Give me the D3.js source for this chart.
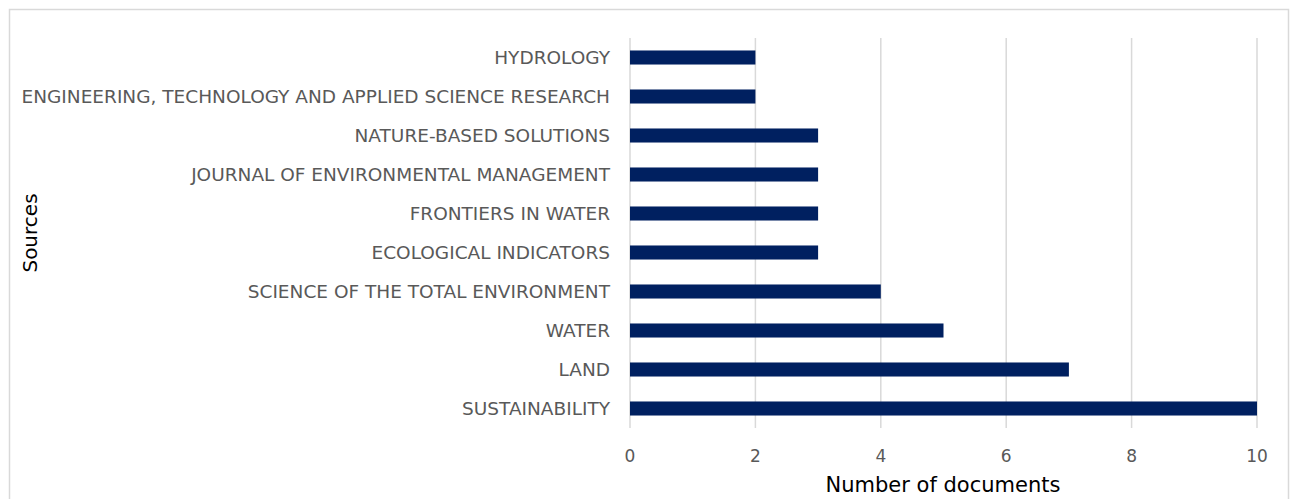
<!DOCTYPE html>
<html><head><meta charset="utf-8">
<script src="https://cdn.jsdelivr.net/npm/d3@7"></script>
<style>body{margin:0;background:#fff}svg{display:block}</style>
</head><body>
<script>
const categories = ["HYDROLOGY","ENGINEERING, TECHNOLOGY AND APPLIED SCIENCE RESEARCH","NATURE-BASED SOLUTIONS","JOURNAL OF ENVIRONMENTAL MANAGEMENT","FRONTIERS IN WATER","ECOLOGICAL INDICATORS","SCIENCE OF THE TOTAL ENVIRONMENT","WATER","LAND","SUSTAINABILITY"];
const values = [2,2,3,3,3,3,4,5,7,10];
const xTicks = [0,2,4,6,8,10];
const xTitle = "Number of documents";
const yTitle = "Sources";

const W = 1298, H = 499;
const svg = d3.select("body").append("svg").attr("width", W).attr("height", H);
svg.append("rect").attr("x",9.5).attr("y",9.5).attr("width",1279).attr("height",520)
  .attr("fill","#fff").attr("stroke","#d9d9d9").attr("stroke-width",1.5);

const x = d3.scaleLinear().domain([0,10]).range([630,1257]);
const y = d3.scaleBand().domain(categories).range([38,428]).paddingInner(0.64).paddingOuter(0.32);

svg.append("g").selectAll("line").data(xTicks).join("line")
  .attr("x1",d=>x(d)).attr("x2",d=>x(d)).attr("y1",38).attr("y2",428)
  .attr("stroke","#d9d9d9").attr("stroke-width",1.5);

svg.append("g").selectAll("rect").data(values).join("rect")
  .attr("x",x(0)).attr("y",(d,i)=>y(categories[i]))
  .attr("width",d=>x(d)-x(0)).attr("height",y.bandwidth())
  .attr("fill","#002060");

const font = "DejaVu Sans, sans-serif";
svg.append("g").selectAll("text").data(categories).join("text")
  .attr("x",610).attr("y",d=>y(d)+y.bandwidth()/2).attr("dy","0.36em")
  .attr("text-anchor","end").attr("font-family",font).attr("font-size",18.5)
  .attr("fill","#595959").text(d=>d);

svg.append("g").selectAll("text").data(xTicks).join("text")
  .attr("x",d=>x(d)).attr("y",462).attr("text-anchor","middle")
  .attr("font-family",font).attr("font-size",17).attr("fill","#595959").text(d=>d);

svg.append("text").attr("x",943).attr("y",492).attr("text-anchor","middle")
  .attr("font-family",font).attr("font-size",21).attr("fill","#000").text(xTitle);

svg.append("text").attr("transform","translate(37,233) rotate(-90)").attr("text-anchor","middle")
  .attr("font-family",font).attr("font-size",20).attr("fill","#000").text(yTitle);
</script>
</body></html>
